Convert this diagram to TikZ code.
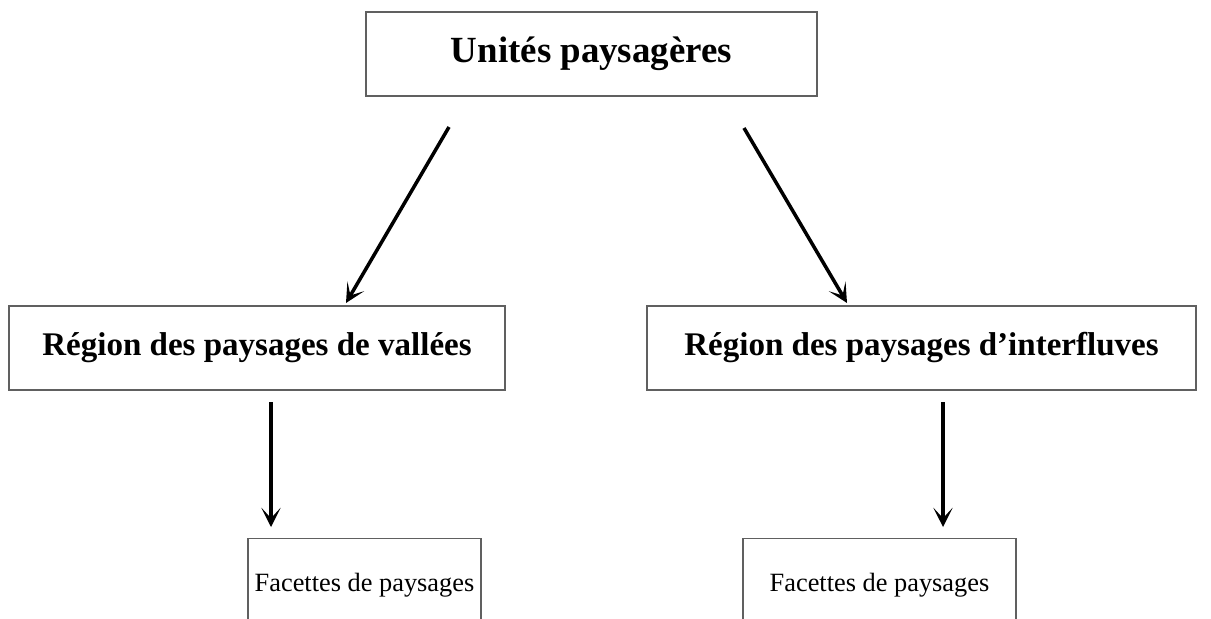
\documentclass[tikz,border=0pt]{standalone}
\usepackage{fontspec}
\setmainfont{Liberation Serif}
\usetikzlibrary{arrows.meta}
\tikzset{
  cadre/.style={draw=gray!75!black, line width=0.8pt, inner sep=0pt},
  fleche/.style={line width=2pt, -{Stealth[length=11pt, width=11pt, inset=6pt]}},
}
\begin{document}
\begin{tikzpicture}[x=0.02cm, y=-0.02cm]

\useasboundingbox (0,0) rectangle (1211,619);
\clip (0,0) rectangle (1211,619);

\node[cadre, minimum width=9.02cm, minimum height=1.68cm] (unites) at (591.5,54) {\fontsize{21}{25}\bfseries Unités paysagères};
\node[cadre, minimum width=9.92cm, minimum height=1.68cm] (vallees) at (257,348) {\fontsize{18.8}{22}\bfseries Région des paysages de vallées};
\node[cadre, minimum width=10.98cm, minimum height=1.68cm] (interfluves) at (921.5,348) {\fontsize{18.8}{22}\bfseries Région des paysages d’interfluves};
\node[cadre, anchor=north, minimum width=4.66cm, text height=30pt, text depth=25pt] (facv) at (364.5,538) {\fontsize{15}{18}\selectfont Facettes de paysages};
\node[cadre, anchor=north, minimum width=5.46cm, text height=30pt, text depth=25pt] (faci) at (879.5,538) {\fontsize{15}{18}\selectfont Facettes de paysages};

\coordinate (d1) at (449,127);
\coordinate (a1) at (346,303);
\coordinate (d2) at (744,128);
\coordinate (a2) at (847,303);
\coordinate (d3) at (271,402);
\coordinate (a3) at (271,527);
\coordinate (d4) at (943,402);
\coordinate (a4) at (943,527);

\draw[fleche] (d1) -- (a1);
\draw[fleche] (d2) -- (a2);
\draw[fleche] (d3) -- (a3);
\draw[fleche] (d4) -- (a4);

\end{tikzpicture}
\end{document}
